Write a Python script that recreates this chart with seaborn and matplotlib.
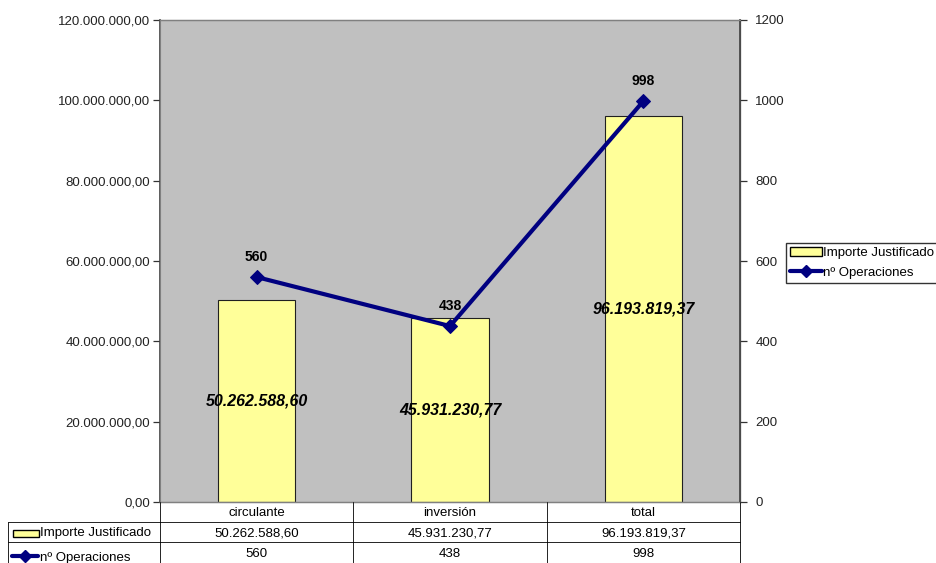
import matplotlib
matplotlib.use("Agg")
import matplotlib.pyplot as plt
import seaborn as sns
import pandas as pd
from matplotlib.lines import Line2D
from matplotlib.patches import Rectangle

categories = ["circulante", "inversión", "total"]
importe = [50262588.60, 45931230.77, 96193819.37]
operaciones = [560, 438, 998]
importe_labels = ["50.262.588,60", "45.931.230,77", "96.193.819,37"]
oper_labels = ["560", "438", "998"]
left_ticks = [0, 20e6, 40e6, 60e6, 80e6, 100e6, 120e6]
left_tick_labels = ["0,00", "20.000.000,00", "40.000.000,00", "60.000.000,00",
                    "80.000.000,00", "100.000.000,00", "120.000.000,00"]
right_ticks = [0, 200, 400, 600, 800, 1000, 1200]
series_names = ["Importe Justificado", "nº Operaciones"]

sns.set_style("white")
plt.rcParams['font.family'] = ['Liberation Sans', 'DejaVu Sans']
plt.rcParams['text.color'] = 'black'
plt.rcParams['xtick.color'] = 'black'
plt.rcParams['ytick.color'] = 'black'

W, H = 937, 563
fig = plt.figure(figsize=(W / 100, H / 100), dpi=100)
L, R, T, B = 160, 740, 20, 502
ax = fig.add_axes([L / W, 1 - B / H, (R - L) / W, (B - T) / H])
ax.set_facecolor("#C0C0C0")

df = pd.DataFrame({"cat": categories, "importe": importe, "oper": operaciones})
bar_color = "#FFFF99"
line_color = "#000080"
FS = 9.5
sns.barplot(data=df, x="cat", y="importe", ax=ax, color=bar_color,
            edgecolor="#202020", linewidth=0.8, width=0.4, saturation=1)
ax.set_xlim(-0.5, 2.5)
ax.set_ylim(0, 120e6)
ax.set_yticks(left_ticks)
ax.set_yticklabels(left_tick_labels, fontsize=FS, color="#222222")
ax.set_xticks([])
ax.set_xlabel("")
ax.set_ylabel("")
ax.tick_params(axis="y", direction="out", length=5, width=0.9, color="#333333", pad=2)
for s in ax.spines.values():
    s.set_color("#808080")
    s.set_linewidth(1)
ax.spines["left"].set_color("#404040")
ax.spines["left"].set_linewidth(1.2)

for i, (v, lab) in enumerate(zip(importe, importe_labels)):
    ax.text(i, v / 2, lab, ha="center", va="center", fontsize=11.5,
            fontweight="bold", fontstyle="italic")

ax2 = ax.twinx()
sns.lineplot(data=df, x="cat", y="oper", ax=ax2, color=line_color, linewidth=3,
             marker="D", markersize=7, markeredgecolor=line_color, sort=False)
ax2.set_xlim(-0.5, 2.5)
ax2.set_ylim(0, 1200)
ax2.set_yticks(right_ticks)
ax2.set_yticklabels([str(t) for t in right_ticks], fontsize=FS, color="#222222")
ax2.set_ylabel("")
ax2.set_xlabel("")
ax2.tick_params(axis="y", direction="out", length=5, width=0.9, color="#333333", pad=6)
for s in ax2.spines.values():
    s.set_color("#808080")
ax2.spines["right"].set_color("#404040")
ax2.spines["right"].set_linewidth(1.2)
for i, (v, lab) in enumerate(zip(operaciones, oper_labels)):
    ax2.annotate(lab, (i, v), xytext=(0, 14.4), textcoords="offset points",
                 ha="center", va="center", fontsize=10, fontweight="bold")

# legend
handles = [Rectangle((0, 0), 1, 1, facecolor=bar_color, edgecolor="black", linewidth=1),
           Line2D([0], [0], color=line_color, linewidth=3, marker="D", markersize=6)]
fig.legend(handles, series_names, loc="upper left",
           bbox_to_anchor=(786 / W, 1 - 243 / H), frameon=True, fancybox=False,
           edgecolor="black", fontsize=FS, handlelength=2.4, handleheight=0.7,
           handletextpad=0.1, borderpad=0.3, labelspacing=0.55, borderaxespad=0)

# data table
def fx(x):
    return x / W

def fy(y):
    return 1 - y / H

lc = "black"
lw = 0.6
col_edges = [L, L + (R - L) / 3, L + 2 * (R - L) / 3, R]
tab_left = 8
for x in col_edges:
    fig.add_artist(Line2D([fx(x), fx(x)], [fy(B), fy(563)], color=lc, lw=lw))
fig.add_artist(Line2D([fx(tab_left), fx(tab_left)], [fy(522), fy(563)], color=lc, lw=lw))
fig.add_artist(Line2D([fx(tab_left), fx(R)], [fy(522), fy(522)], color=lc, lw=lw))
fig.add_artist(Line2D([fx(tab_left), fx(R)], [fy(542), fy(542)], color=lc, lw=lw))

centers = [(col_edges[i] + col_edges[i + 1]) / 2 for i in range(3)]
for c, t in zip(centers, categories):
    fig.text(fx(c), fy(513), t, ha="center", va="center", fontsize=FS)
for c, t in zip(centers, importe_labels):
    fig.text(fx(c), fy(533), t, ha="center", va="center", fontsize=FS)
for c, t in zip(centers, oper_labels):
    fig.text(fx(c), fy(554), t, ha="center", va="center", fontsize=FS)

# table row keys
fig.add_artist(Rectangle((fx(13), fy(537)), fx(26), 7 / H, facecolor=bar_color,
                         edgecolor="black", linewidth=1, transform=fig.transFigure))
fig.text(fx(40), fy(533), series_names[0], ha="left", va="center", fontsize=FS)
fig.add_artist(Line2D([fx(12), fx(38)], [fy(556), fy(556)], color=line_color, lw=3,
                      transform=fig.transFigure))
fig.add_artist(Line2D([fx(25)], [fy(556)], color=line_color, marker="D", markersize=6,
                      transform=fig.transFigure))
fig.text(fx(40), fy(558), series_names[1], ha="left", va="center", fontsize=FS)

fig.savefig("out.png", dpi=100)
